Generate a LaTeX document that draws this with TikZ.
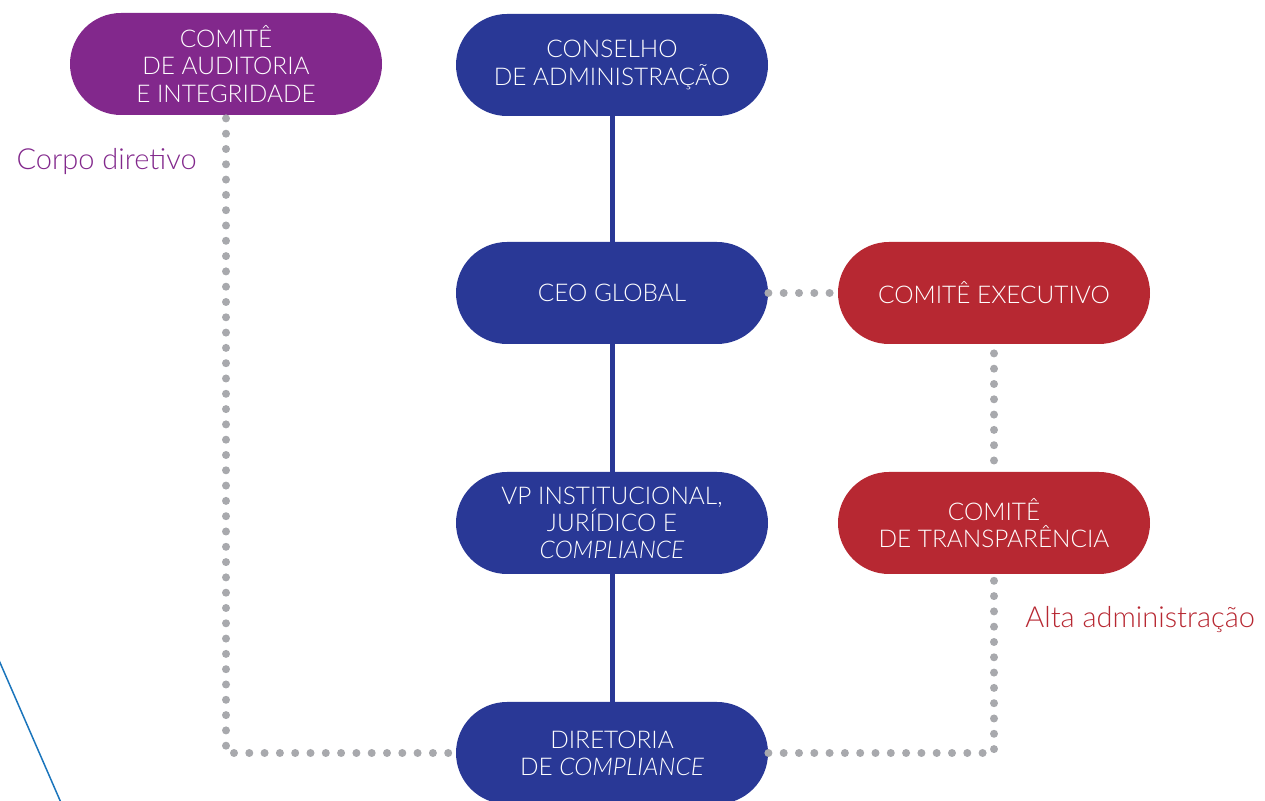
\documentclass[tikz,border=0pt]{standalone}
\usepackage{fontspec}
\setmainfont{Lato}[UprightFont={* Light}, ItalicFont={* Light Italic}]
\definecolor{roxo}{HTML}{82288C}
\definecolor{azul}{HTML}{293896}
\definecolor{vermelho}{HTML}{B72832}
\definecolor{cinza}{HTML}{A8A9AD}
\definecolor{fio}{HTML}{1B75BC}

\begin{document}
\begin{tikzpicture}[x=0.5pt,y=-0.5pt]
    \tikzstyle{caixa}=[rectangle, rounded corners=25.5pt, minimum width=156pt, minimum height=51pt, inner sep=0pt, text=white, align=center, font=\fontsize{12.2}{13.6}\selectfont]
    \tikzstyle{diretivo}=[caixa, fill=roxo]
    \tikzstyle{gestao}=[caixa, fill=azul]
    \tikzstyle{alta}=[caixa, fill=vermelho]
    \tikzstyle{linha}=[draw=azul, line width=2.5pt]
    \tikzstyle{pontos}=[draw=cinza, line width=4pt, line cap=round, dash pattern=on 0pt off 7.65pt]
    \tikzstyle{rotulo}=[inner sep=0pt, font=\fontsize{14.5}{16}\selectfont]

    \useasboundingbox (0,0) rectangle (1265,801);

    % thin line of the background
    \draw[draw=fio, line width=0.75pt] (-2,658) -- (62,805);

    \node[diretivo] (CA) at (226,64) {COMITÊ\\DE AUDITORIA\\E INTEGRIDADE};
    \node[gestao] (CON) at (612,65) {CONSELHO\\DE ADMINISTRAÇÃO};
    \node[gestao] (CEO) at (612,293) {CEO GLOBAL};
    \node[alta] (EXE) at (994,293) {COMITÊ EXECUTIVO};
    \node[gestao] (VP) at (612,523) {VP INSTITUCIONAL,\\JURÍDICO E\\\textit{COMPLIANCE}};
    \node[alta] (TRA) at (994,523) {COMITÊ\\DE TRANSPARÊNCIA};
    \node[gestao] (DIR) at (612,753) {DIRETORIA\\DE \textit{COMPLIANCE}};

    \foreach \source/\dest in {CON/CEO, CEO/VP, VP/DIR}
        \path[linha] (\source) -- (\dest);

    \draw[pontos, shorten <=1.5pt] (CA.south) |- (DIR.west);
    \draw[pontos] (DIR.east) -| ([yshift=-2pt]TRA.south);
    \draw[pontos, shorten >=3pt] (CEO.east) -- (EXE.west);
    \draw[pontos, shorten <=4.5pt, shorten >=5pt] (EXE.south) -- (TRA.north);

    \node[rotulo, text=roxo, anchor=east] (corpo) at (197,162) {Corpo diretivo};
    \node[rotulo, text=vermelho, anchor=west] (altaadm) at (1025,620) {Alta administração};
\end{tikzpicture}
\end{document}
